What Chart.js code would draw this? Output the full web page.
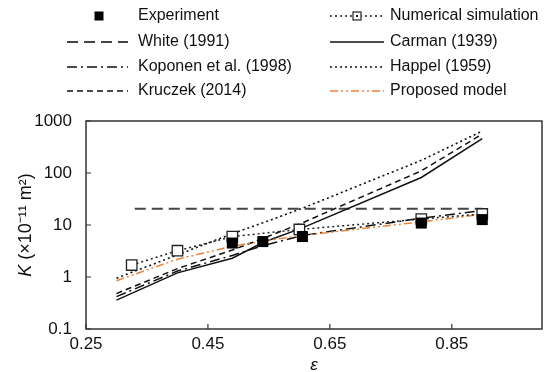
<!DOCTYPE html>
<html>
<head>
<meta charset="utf-8">
<script src="https://cdn.jsdelivr.net/npm/chart.js@4/dist/chart.umd.min.js"></script>
<style>
  html, body { margin: 0; padding: 0; background: #fff; }
  #wrap { position: relative; width: 554px; height: 372px; }
</style>
</head>
<body>
<div id="wrap"><canvas id="chart" width="554" height="372"></canvas></div>
<script>
/* =========================================================
   DATA
========================================================= */
const xTicks = [0.25, 0.45, 0.65, 0.85];
const yTicks = [0.1, 1, 10, 100, 1000];

const expEps = [0.49, 0.54, 0.605, 0.80, 0.90];
const expK   = [4.5, 4.8, 6.0, 10.9, 12.7];

const simEps = [0.325, 0.40, 0.49, 0.60, 0.80, 0.90];
const simK   = [1.7, 3.2, 6.0, 8.2, 13, 16.3];

const whiteEps = [0.33, 0.90];
const whiteK   = [20.5, 20.5];

const modelEps  = [0.30, 0.40, 0.49, 0.54, 0.605, 0.80, 0.90];
const carmanK   = [0.36, 1.2, 2.3, 4.6, 8.8, 82, 460];
const kruczekK  = [0.48, 1.45, 3.3, 5.5, 11, 110, 560];
const koponenK  = [0.42, 1.3, 2.6, 4.0, 6.3, 13.5, 19];
const happelK   = [0.95, 2.66, 6.8, 11, 21, 175, 640];
const proposedK = [0.85, 2.2, 3.9, 4.9, 6.3, 11.5, 16];

const FONT = "'Liberation Sans', Arial, sans-serif";
const ORANGE = "#e8843c";

function pts(xs, ys) {
  return xs.map((x, i) => ({ x: x, y: ys[i] }));
}

function lineSet(label, xs, ys, color, dash, width) {
  return {
    label: label,
    data: pts(xs, ys),
    showLine: true,
    borderColor: color,
    borderWidth: width,
    borderDash: dash,
    pointRadius: 0,
    fill: false,
    tension: 0
  };
}

/* =========================================================
   DATASETS (index 0 is drawn on top)
========================================================= */
const datasets = [
  {
    label: "Experiment",
    data: pts(expEps, expK),
    showLine: false,
    pointStyle: "rect",
    pointRadius: 7.8,
    backgroundColor: "#000",
    borderColor: "#000",
    borderWidth: 0
  },
  {
    label: "Numerical simulation",
    data: pts(simEps, simK),
    showLine: true,
    borderColor: "#222",
    borderWidth: 1.5,
    borderDash: [2, 3],
    pointStyle: "rect",
    pointRadius: 7.4,
    pointBackgroundColor: "#fff",
    pointBorderColor: "#222",
    pointBorderWidth: 1.3
  },
  lineSet("Proposed model", modelEps, proposedK, ORANGE, [8, 3, 2, 3, 2, 3], 1.5),
  lineSet("Carman (1939)", modelEps, carmanK, "#111", [], 1.5),
  lineSet("Kruczek (2014)", modelEps, kruczekK, "#111", [6, 4], 1.5),
  lineSet("Koponen et al. (1998)", modelEps, koponenK, "#111", [10, 4, 2, 4], 1.5),
  lineSet("Happel (1959)", modelEps, happelK, "#111", [2, 3], 1.6),
  lineSet("White (1991)", whiteEps, whiteK, "#444", [11, 6], 2)
];

/* =========================================================
   LEGEND + FRAME PLUGIN
========================================================= */
const legendLayout = [
  { label: "Experiment",            col: 0, row: 0 },
  { label: "White (1991)",          col: 0, row: 1 },
  { label: "Koponen et al. (1998)", col: 0, row: 2 },
  { label: "Kruczek (2014)",        col: 0, row: 3 },
  { label: "Numerical simulation",  col: 1, row: 0 },
  { label: "Carman (1939)",         col: 1, row: 1 },
  { label: "Happel (1959)",         col: 1, row: 2 },
  { label: "Proposed model",        col: 1, row: 3 }
];
const cols = [
  { x0: 67, x1: 128, tx: 138 },
  { x0: 330, x1: 384, tx: 390 }
];
const rows = [16, 42, 67, 91];

const figurePlugin = {
  id: "figure",
  afterDraw(chart) {
    const ctx = chart.ctx;
    const a = chart.chartArea;
    const xs = chart.scales.x, ys = chart.scales.y;

    ctx.save();
    // frame
    ctx.strokeStyle = "#333";
    ctx.lineWidth = 1.5;
    ctx.setLineDash([]);
    ctx.strokeRect(a.left, a.top, a.right - a.left, a.bottom - a.top);

    // inward ticks on left and bottom
    ctx.lineWidth = 1.2;
    ctx.beginPath();
    yTicks.forEach(v => {
      const py = ys.getPixelForValue(v);
      ctx.moveTo(a.left, py);
      ctx.lineTo(a.left + 5, py);
    });
    xTicks.forEach(v => {
      const px = xs.getPixelForValue(v);
      ctx.moveTo(px, a.bottom);
      ctx.lineTo(px, a.bottom - 5);
    });
    ctx.stroke();

    // y title: K (x10^-11 m^2)
    ctx.fillStyle = "#111";
    ctx.translate(26, (a.top + a.bottom) / 2);
    ctx.rotate(-Math.PI / 2);
    ctx.textBaseline = "middle";
    const partK = "K";
    const partRest = " (\u00d710\u207b\u00b9\u00b9 m\u00b2)";
    ctx.font = "italic 18px " + FONT;
    const wK = ctx.measureText(partK).width;
    ctx.font = "18px " + FONT;
    const wR = ctx.measureText(partRest).width;
    let sx = -(wK + wR) / 2;
    ctx.font = "italic 18px " + FONT;
    ctx.fillText(partK, sx, 0);
    ctx.font = "18px " + FONT;
    ctx.fillText(partRest, sx + wK, 0);
    ctx.restore();

    // legend
    ctx.save();
    ctx.textBaseline = "middle";
    ctx.font = "16px " + FONT;
    legendLayout.forEach(item => {
      const ds = chart.data.datasets.find(d => d.label === item.label);
      const c = cols[item.col];
      const y = rows[item.row];
      if (ds.showLine) {
        ctx.strokeStyle = ds.borderColor;
        ctx.lineWidth = ds.borderWidth;
        ctx.setLineDash(ds.borderDash || []);
        ctx.beginPath();
        ctx.moveTo(c.x0, y);
        ctx.lineTo(c.x1, y);
        ctx.stroke();
      }
      ctx.setLineDash([]);
      if (item.label === "Experiment") {
        ctx.fillStyle = "#000";
        ctx.fillRect(99 - 4.5, y - 4.5, 9, 9);
      }
      if (item.label === "Numerical simulation") {
        const mx = (c.x0 + c.x1) / 2;
        ctx.fillStyle = "#fff";
        ctx.fillRect(mx - 4, y - 4, 8, 8);
        ctx.strokeStyle = "#222";
        ctx.lineWidth = 1.2;
        ctx.strokeRect(mx - 4, y - 4, 8, 8);
        ctx.fillStyle = "#222";
        ctx.fillRect(mx - 1, y - 1, 2, 2);
      }
      ctx.fillStyle = "#111";
      ctx.fillText(item.label, c.tx, y);
    });
    ctx.restore();
  }
};

/* =========================================================
   CHART
========================================================= */
new Chart(document.getElementById("chart"), {
  type: "scatter",
  data: { datasets: datasets },
  plugins: [figurePlugin],
  options: {
    responsive: false,
    animation: false,
    layout: { padding: { top: 121, right: 12, left: 0, bottom: 0 } },
    plugins: {
      legend: { display: false },
      tooltip: { enabled: false }
    },
    scales: {
      x: {
        type: "linear",
        min: 0.25,
        max: 0.998,
        afterBuildTicks: s => { s.ticks = xTicks.map(v => ({ value: v })); },
        afterFit: s => { s.height = 43; },
        grid: { display: false },
        border: { display: false },
        ticks: {
          color: "#111",
          font: { family: FONT, size: 17 },
          padding: -3,
          maxRotation: 0,
          callback: v => v.toFixed(2)
        },
        title: {
          display: true,
          text: "\u03b5",
          color: "#111",
          font: { family: FONT, size: 17, style: "italic" },
          padding: { top: 0, bottom: -3 }
        }
      },
      y: {
        type: "logarithmic",
        min: 0.1,
        max: 1000,
        afterBuildTicks: s => { s.ticks = yTicks.map(v => ({ value: v })); },
        afterFit: s => { s.width = 86; },
        grid: { display: false },
        border: { display: false },
        ticks: {
          color: "#111",
          font: { family: FONT, size: 17 },
          padding: 6,
          callback: v => String(v)
        }
      }
    }
  }
});
</script>
</body>
</html>
